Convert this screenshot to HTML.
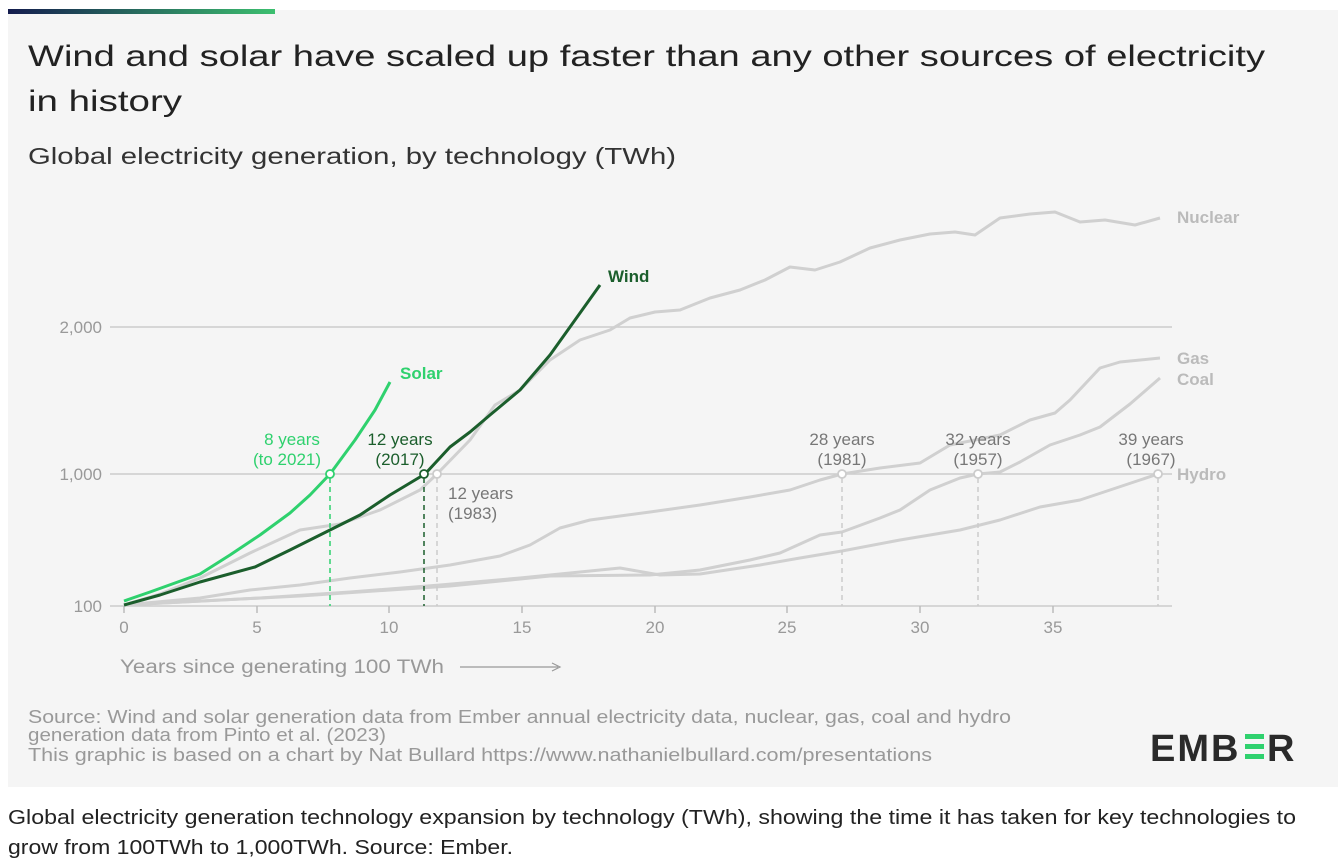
<!DOCTYPE html><html><head><meta charset="utf-8"><style>
body{margin:0;width:1338px;height:868px;background:#fff;font-family:"Liberation Sans",sans-serif;overflow:hidden;position:relative}
.box{position:absolute;left:8px;top:10px;width:1330px;height:777px;background:#f5f5f5}
.bar{position:absolute;left:8px;top:9px;width:267px;height:5px;background:linear-gradient(90deg,#141c4e,#3cbf6f)}
</style></head><body>
<div class="box"></div><div class="bar"></div>
<svg width="1338" height="868" style="position:absolute;left:0;top:0" font-family="Liberation Sans, sans-serif">
<g fill="#222"><text x="28" y="66" font-size="30" textLength="1237" lengthAdjust="spacingAndGlyphs">Wind and solar have scaled up faster than any other sources of electricity</text>
<text x="28" y="111" font-size="30" textLength="154" lengthAdjust="spacingAndGlyphs">in history</text>
<text x="28" y="164" font-size="23" fill="#333" textLength="648" lengthAdjust="spacingAndGlyphs">Global electricity generation, by technology (TWh)</text></g>
<g stroke="#ccc" stroke-width="1.5"><line x1="110" y1="327" x2="1172" y2="327"/><line x1="110" y1="474" x2="1172" y2="474"/><line x1="110" y1="606" x2="1172" y2="606"/></g>
<g stroke="#bbb" stroke-width="1.5"><line x1="124" y1="606" x2="124" y2="613"/><line x1="257" y1="606" x2="257" y2="613"/><line x1="389" y1="606" x2="389" y2="613"/><line x1="522" y1="606" x2="522" y2="613"/><line x1="655" y1="606" x2="655" y2="613"/><line x1="787" y1="606" x2="787" y2="613"/><line x1="920" y1="606" x2="920" y2="613"/><line x1="1053" y1="606" x2="1053" y2="613"/></g>
<g fill="#999" font-size="17" text-anchor="end"><text x="102" y="333">2,000</text><text x="102" y="480">1,000</text><text x="102" y="612">100</text></g>
<g fill="#999" font-size="17" text-anchor="middle"><text x="124" y="633">0</text><text x="257" y="633">5</text><text x="389" y="633">10</text><text x="522" y="633">15</text><text x="655" y="633">20</text><text x="787" y="633">25</text><text x="920" y="633">30</text><text x="1053" y="633">35</text></g>
<text x="120" y="673" fill="#999" font-size="19" textLength="324" lengthAdjust="spacingAndGlyphs">Years since generating 100 TWh</text>
<line x1="460" y1="667" x2="558" y2="667" stroke="#999" stroke-width="1.2"/><path d="M552,663 L560,667 L552,671" fill="none" stroke="#999" stroke-width="1.2"/>
<g fill="none" stroke="#d0d0d0" stroke-width="3" stroke-linejoin="round">
<polyline points="124,605 300,596 450,586 550,576 650,575 700,570 750,560 780,553 820,535 842,532 880,518 900,510 930,490 960,478 978,474 1000,472 1020,462 1050,445 1080,435 1100,427 1130,404 1160,378"/>
<polyline points="124,605 260,598 350,592 440,585 520,578 580,572 620,568 660,575 700,574 760,565 800,558 842,551 900,540 960,530 1000,520 1040,507 1080,500 1110,490 1140,480 1158,474"/>
<polyline points="124,605 200,598 250,590 300,585 350,578 400,572 450,565 500,556 530,545 560,528 590,520 620,516 650,512 700,505 750,497 790,490 820,480 842,474 880,468 920,463 950,445 1000,435 1030,420 1055,413 1070,400 1100,368 1120,362 1160,358"/>
<polyline points="124,605 160,594 200,578 250,553 300,530 340,524 380,510 420,490 437,474 470,440 495,405 520,390 550,360 580,340 610,330 630,318 655,312 680,310 710,298 740,290 765,280 790,267 815,270 840,262 870,248 900,240 930,234 955,232 975,235 1000,218 1030,214 1055,212 1080,222 1105,220 1135,225 1160,218"/>
</g>
<polyline fill="none" stroke="#2fd16e" stroke-width="3" stroke-linejoin="round" points="124,601 150,592 175,583 200,574 230,555 260,535 290,513 310,495 330,474 355,440 375,410 390,382"/>
<polyline fill="none" stroke="#1b5e2c" stroke-width="3" stroke-linejoin="round" points="124,605 160,595 200,582 255,567 290,550 330,530 360,515 390,495 425,474 450,447 470,432 490,415 520,390 550,355 575,320 600,285"/>
<g stroke-dasharray="5,4" stroke-width="1.5"><line x1="330" y1="478" x2="330" y2="606" stroke="#2fd16e"/><line x1="424" y1="478" x2="424" y2="606" stroke="#1b5e2c"/><line x1="437" y1="478" x2="437" y2="606" stroke="#ccc"/><line x1="842" y1="478" x2="842" y2="606" stroke="#ccc"/><line x1="978" y1="478" x2="978" y2="606" stroke="#ccc"/><line x1="1158" y1="478" x2="1158" y2="606" stroke="#ccc"/></g>
<g fill="#fff" stroke-width="1.8"><circle cx="330" cy="474" r="4" stroke="#2fd16e"/><circle cx="424" cy="474" r="4" stroke="#1b5e2c"/><circle cx="437" cy="474" r="4" stroke="#ccc"/><circle cx="842" cy="474" r="4" stroke="#ccc"/><circle cx="978" cy="474" r="4" stroke="#ccc"/><circle cx="1158" cy="474" r="4" stroke="#ccc"/></g>
<g font-size="17" text-anchor="middle"><text x="292" y="445" fill="#2fd16e">8 years</text><text x="287" y="465" fill="#2fd16e">(to 2021)</text>
<text x="400" y="445" fill="#1b5e2c">12 years</text><text x="400" y="465" fill="#1b5e2c">(2017)</text>
<text x="842" y="445" fill="#777">28 years</text><text x="842" y="465" fill="#777">(1981)</text>
<text x="978" y="445" fill="#777">32 years</text><text x="978" y="465" fill="#777">(1957)</text>
<text x="1151" y="445" fill="#777">39 years</text><text x="1151" y="465" fill="#777">(1967)</text></g>
<text x="448" y="499" fill="#777" font-size="17">12 years</text><text x="448" y="519" fill="#777" font-size="17">(1983)</text>
<g font-size="17" font-weight="bold"><text x="400" y="379" fill="#2fd16e">Solar</text><text x="608" y="282" fill="#1b5e2c">Wind</text>
<text x="1177" y="223" fill="#bbb">Nuclear</text><text x="1177" y="364" fill="#bbb">Gas</text><text x="1177" y="385" fill="#bbb">Coal</text><text x="1177" y="480" fill="#bbb">Hydro</text></g>
<g fill="#999" font-size="18"><text x="28" y="723" textLength="983" lengthAdjust="spacingAndGlyphs">Source: Wind and solar generation data from Ember annual electricity data, nuclear, gas, coal and hydro</text><text x="28" y="741" textLength="358" lengthAdjust="spacingAndGlyphs">generation data from Pinto et al. (2023)</text><text x="28" y="761" textLength="904" lengthAdjust="spacingAndGlyphs">This graphic is based on a chart by Nat Bullard https://www.nathanielbullard.com/presentations</text></g>
<text x="1150" y="761" fill="#2a2a2a" font-size="38" font-weight="bold" letter-spacing="2">EMB</text>
<g fill="#2fd16e"><rect x="1245" y="734" width="19" height="5"/><rect x="1245" y="744" width="19" height="5"/><rect x="1245" y="754" width="19" height="5"/></g>
<text x="1267" y="761" fill="#2a2a2a" font-size="38" font-weight="bold">R</text>
<g fill="#222" font-size="20"><text x="8" y="824" textLength="1288" lengthAdjust="spacingAndGlyphs">Global electricity generation technology expansion by technology (TWh), showing the time it has taken for key technologies to</text>
<text x="8" y="854" textLength="505" lengthAdjust="spacingAndGlyphs">grow from 100TWh to 1,000TWh. Source: Ember.</text></g>
</svg>
</body></html>
